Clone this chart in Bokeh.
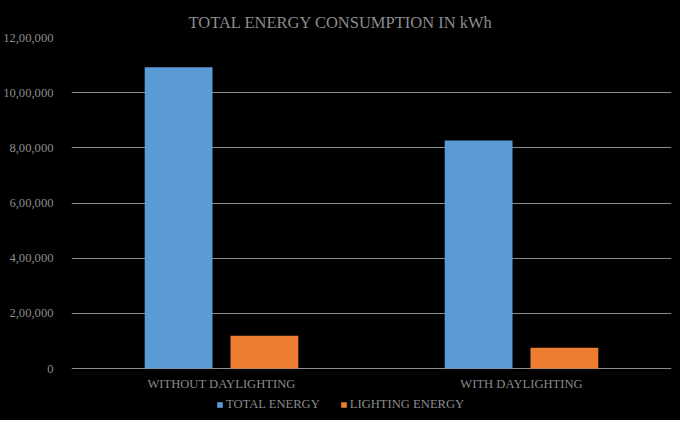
from bokeh.plotting import figure
from bokeh.models import FixedTicker, Range1d, Legend, LegendItem
from bokeh.transform import dodge
from bokeh.core.properties import value
from bokeh.embed import file_html
from bokeh.resources import INLINE

categories = ["WITHOUT DAYLIGHTING", "WITH DAYLIGHTING"]
total_energy = [1092000, 827000]
lighting_energy = [119000, 75000]
y_ticks = [0, 200000, 400000, 600000, 800000, 1000000, 1200000]
y_tick_labels = ["0", "2,00,000", "4,00,000", "6,00,000", "8,00,000", "10,00,000", "12,00,000"]
title_text = "TOTAL ENERGY CONSUMPTION IN kWh"

FONT = "Liberation Serif"
TXT = "#8c8c8c"
GRID = "#8a8a8a"

# frame is extended below zero so that category labels and legend live inside it
PX_PER_UNIT = 331.4 / 1200000
Y_MIN = -52 / PX_PER_UNIT
Y_CAT = -15 / PX_PER_UNIT

p = figure(x_range=categories, y_range=Range1d(Y_MIN, 1200000), width=680, height=420,
           output_backend="svg", toolbar_location=None, title=title_text,
           background_fill_color="black", border_fill_color="black",
           min_border_left=70, min_border_right=9, min_border_bottom=0, min_border_top=37)
p.outline_line_color = None
p.styles = {"background-color": "#000000"}

p.title.text_font = FONT
p.title.text_font_size = "16.5px"
p.title.text_font_style = "normal"
p.title.text_color = TXT
p.title.align = "left"
p.title.offset = 117
p.title.standoff = 11

src = dict(cat=categories, total=total_energy, light=lighting_energy)
r1 = p.vbar(x=dodge("cat", -0.143, range=p.x_range), top="total", width=0.226, source=src,
            fill_color="#5B9BD5", line_color=None)
r2 = p.vbar(x=dodge("cat", 0.143, range=p.x_range), top="light", width=0.226, source=src,
            fill_color="#ED7D31", line_color=None)

p.yaxis.ticker = FixedTicker(ticks=y_ticks)
p.yaxis.major_label_overrides = {t: l for t, l in zip(y_ticks, y_tick_labels)}
p.yaxis.axis_line_color = None
p.yaxis.major_tick_line_color = None
p.yaxis.minor_tick_line_color = None
p.yaxis.major_label_standoff = 12
p.yaxis.major_label_text_font = FONT
p.yaxis.major_label_text_font_size = "12.6px"
p.yaxis.major_label_text_color = TXT

p.xaxis.visible = False
p.xgrid.grid_line_color = None
p.ygrid.grid_line_color = GRID
p.ygrid.ticker = FixedTicker(ticks=y_ticks)

p.text(x=categories, y=[Y_CAT] * len(categories), text=categories,
       text_font=value(FONT), text_font_size="12.6px", text_color=TXT,
       text_align="center", text_baseline="middle")

legend = Legend(items=[LegendItem(label="TOTAL ENERGY", renderers=[r1]),
                       LegendItem(label="LIGHTING ENERGY", renderers=[r2])],
                orientation="horizontal", location=(145, 8))
legend.label_text_font = FONT
legend.label_text_font_size = "12.6px"
legend.label_text_color = TXT
legend.glyph_width = 7
legend.glyph_height = 7
legend.label_standoff = 3
legend.spacing = 20
legend.padding = 0
legend.margin = 0
legend.background_fill_alpha = 0
legend.border_line_color = None
legend.label_height = 14
p.add_layout(legend, "center")

open("out.html", "w").write(file_html(p, INLINE))
